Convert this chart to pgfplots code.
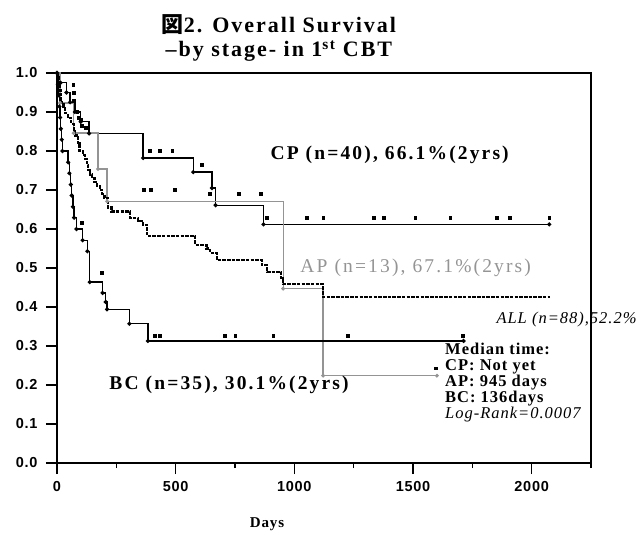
\documentclass[border=0pt]{standalone}
\usepackage{fontspec}
\usepackage{pgfplots}
\pgfplotsset{compat=1.18}
\setmainfont{Liberation Serif}
\newfontfamily\spaced[LetterSpace=11]{Liberation Serif}
\newfontfamily\spacedmid[LetterSpace=6]{Liberation Serif}
\newfontfamily\titlefont[LetterSpace=9]{Liberation Serif}
\newfontfamily\tickfont[LetterSpace=5]{Liberation Sans}
\newfontfamily\cjk{Noto Sans CJK JP}
\definecolor{apgray}{gray}{0.58}

% Kaplan-Meier steps: (event day, survival after the event)
\begin{document}
\begin{tikzpicture}
\useasboundingbox (-57pt,-76pt) rectangle (585pt,463pt);
\begin{axis}[
  scale only axis, width=534pt, height=390pt,
  xmin=0, xmax=2250, ymin=0, ymax=1,
  xtick={0,500,1000,1500,2000},
  minor xtick={250,750,1250,1750,2250},
  ytick={0,0.1,0.2,0.3,0.4,0.5,0.6,0.7,0.8,0.9,1.0},
  tick pos=left,
  tick align=outside,
  major tick length=11pt, minor tick length=5pt,
  every tick/.style={black, line width=1.5pt},
  axis line style={line width=1.8pt},
  tick label style={font=\tickfont\bfseries\fontsize{14.5}{14.5}\selectfont},
  /pgf/number format/assume math mode=true,
  yticklabel style={xshift=-5pt, /pgf/number format/.cd, fixed, fixed zerofill, precision=1},
  xticklabel style={yshift=-4pt, /pgf/number format/.cd, 1000 sep={}},
  clip=false,
]
% CP
\addplot[const plot, black, line width=1.4pt, mark=*, mark size=1.3pt] coordinates {
 (0,1) (15,0.975) (40,0.95) (55,0.925) (75,0.90) (100,0.875) (135,0.845)
 (363,0.782) (574,0.746) (653,0.705) (668,0.661) (870,0.612) (2074,0.612)};
% AP
\addplot[const plot, apgray, line width=1.3pt, mark=*, mark size=1.2pt] coordinates {
 (0,1) (13,0.923) (70,0.846) (173,0.754) (211,0.671) (953,0.447) (1121,0.224) (1601,0.224)};
% BC
\addplot[const plot, black, line width=1.4pt, mark=*, mark size=1.3pt] coordinates {
 (0,1) (4,0.971) (7,0.943) (10,0.914) (13,0.886) (16,0.857) (20,0.829) (23,0.80)
 (47,0.771) (52,0.743) (58,0.714) (62,0.686) (67,0.657) (72,0.629) (82,0.60)
 (108,0.571) (128,0.543) (138,0.464) (192,0.436) (205,0.413) (211,0.394)
 (305,0.357) (383,0.313) (1713,0.313)};
% ALL
\addplot[const plot, black, line width=2.2pt, dash pattern=on 3.5pt off 1.2pt] coordinates {
 (0,1) (3,0.989) (6,0.977) (9,0.966) (12,0.955) (15,0.943) (18,0.932) (22,0.92)
 (27,0.91) (34,0.897) (45,0.885) (60,0.87) (70,0.855) (76,0.84) (89,0.82)
 (95,0.80) (110,0.79) (118,0.78) (125,0.765) (131,0.752) (140,0.74) (148,0.73)
 (158,0.72) (169,0.71) (180,0.70) (190,0.69) (200,0.68) (215,0.655) (230,0.645)
 (308,0.628) (340,0.62) (363,0.61) (380,0.582) (582,0.56) (630,0.55) (645,0.538)
 (674,0.52) (864,0.507) (885,0.49) (945,0.475) (953,0.458) (1121,0.426) (2078,0.426)};
% censored cases
\addplot[only marks, black, mark=square*, mark size=1.4pt] coordinates {
 (68,0.97) (70,0.95) (72,0.93) (85,0.90) (92,0.885) (100,0.88) (105,0.865) (120,0.86)
 (392,0.80) (434,0.80) (485,0.80) (611,0.764)
 (645,0.69) (764,0.69) (857,0.69)
 (885,0.63) (1053,0.63) (1122,0.63) (1333,0.63) (1375,0.63) (1509,0.63)
 (1657,0.63) (1854,0.63) (1909,0.63) (2074,0.63)};
\addplot[only marks, black, mark=square*, mark size=1.4pt] coordinates {
 (366,0.70) (395,0.70) (497,0.70) (1595,0.243)};
\addplot[only marks, black, mark=square*, mark size=1.4pt] coordinates {
 (105,0.617) (190,0.487) (413,0.326) (434,0.326) (708,0.326) (751,0.326)
 (911,0.326) (1226,0.326) (1711,0.326)};

% titles and annotations
\node[font=\titlefont\bfseries\fontsize{22}{22}\selectfont, anchor=base]
  at (axis cs:935,1.105) {{\cjk 図}2. Overall Survival};
\node[font=\titlefont\bfseries\fontsize{22}{22}\selectfont, anchor=base]
  at (axis cs:935,1.042) {–by stage- in 1\textsuperscript{st} CBT};
\node[anchor=west, font=\spaced\bfseries\fontsize{19.5}{19.5}\selectfont]
  at (axis cs:885,0.79) {CP (n=40), 66.1\%(2yrs)};
\node[anchor=west, text=apgray, font=\spaced\fontsize{19.5}{19.5}\selectfont]
  at (axis cs:1011,0.50) {AP (n=13), 67.1\%(2yrs)};
\node[anchor=west, font=\spaced\bfseries\fontsize{19.5}{19.5}\selectfont]
  at (axis cs:206,0.20) {BC (n=35), 30.1\%(2yrs)};
\node[anchor=west, font=\spacedmid\itshape\fontsize{16.5}{16.5}\selectfont]
  at (axis cs:1837,0.367) {ALL (n=88),52.2\%};
\node[anchor=north west, align=left, inner sep=0pt,
      font=\spacedmid\bfseries\fontsize{16.5}{16}\selectfont]
  at (axis cs:1635,0.308) {Median time:\\CP: Not yet\\AP: 945 days\\BC: 136days\\{\mdseries\itshape Log-Rank=0.0007}};
\node[font=\spacedmid\bfseries\fontsize{15}{15}\selectfont]
  at (axis cs:885,-0.158) {Days};
\end{axis}
\end{tikzpicture}
\end{document}
